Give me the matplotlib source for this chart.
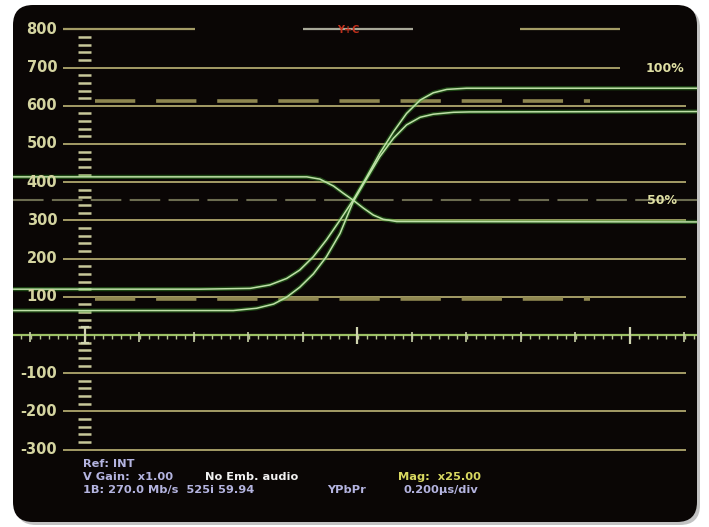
import numpy as np
import matplotlib.pyplot as plt
from matplotlib.patches import FancyBboxPatch

plt.rcParams['lines.scale_dashes'] = False

# graticule (mV)
grid_levels = [700, 600, 500, 400, 300, 200, 100, -100, -200, -300]
scale_labels = ["800", "700", "600", "500", "400", "300", "200", "100", "-100", "-200", "-300"]
scale_values = [800, 700, 600, 500, 400, 300, 200, 100, -100, -200, -300]
marker_levels = [612, 95]
mid_level = 353
top_level = 800

# traces: x in divisions, y in mV
fall_x = [-1.32, 4.07, 4.31, 4.56, 4.74, 4.92, 5.11, 5.29, 5.47, 5.72, 11.23]
fall_y = [414, 414, 408, 390, 371, 353, 332, 314, 303, 297, 296]

up_x = [-1.32, 2.11, 3.03, 3.39, 3.70, 3.94, 4.19, 4.43, 4.68, 4.92, 5.17, 5.41,
        5.66, 5.90, 6.15, 6.39, 6.64, 7.00, 11.23]
up_y = [120, 120, 122, 131, 148, 170, 205, 249, 301, 353, 414, 476,
        532, 580, 615, 634, 643, 646, 646]

lo_x = [-1.32, 2.11, 2.72, 3.15, 3.46, 3.70, 3.94, 4.19, 4.43, 4.68, 4.92, 5.17,
        5.41, 5.66, 5.90, 6.15, 6.39, 6.76, 7.06, 11.23]
lo_y = [64, 64, 64, 70, 81, 99, 125, 160, 205, 266, 349, 410,
        467, 515, 550, 570, 578, 583, 584, 585]

W, H = 709, 527
fig = plt.figure(figsize=(W / 100, H / 100), dpi=100, facecolor='white')
ax = fig.add_axes([0, 0, 1, 1])
ax.set_xlim((0 - 85) / 54.5, (W - 85) / 54.5)
ax.set_ylim((335 - H) / 0.382, 335 / 0.382)
ax.axis('off')

def px(x, y):
    # pixel position -> axes fraction
    return x / W, 1 - y / H

# panel with shadow
shadow = FancyBboxPatch((0.16, 0.02), 6.84, 5.17, boxstyle="round,pad=0,rounding_size=0.2",
                        transform=fig.dpi_scale_trans, fc='#9a9a9a', ec='none', alpha=0.6, zorder=0)
panel = FancyBboxPatch((0.13, 0.05), 6.84, 5.17, boxstyle="round,pad=0,rounding_size=0.2",
                       transform=fig.dpi_scale_trans, fc='#0a0605', ec='none', zorder=0.5)
ax.add_patch(shadow)
ax.add_patch(panel)

gcol = '#a49c66'
x0, x1 = -0.404, 11.03
for lv in grid_levels:
    end = 9.817 if lv == 700 else x1
    ax.hlines(lv, x0, end, color=gcol, lw=1.4, zorder=2)
# top line, broken by the readout
for a, b, c in [(-0.404, 2.018, gcol), (4.0, 6.018, '#a8a898'), (7.98, 9.817, gcol)]:
    ax.hlines(top_level, a, b, color=c, lw=1.6, zorder=2)

# dashed markers
for lv in marker_levels:
    ax.hlines(lv, 0.18, 9.27, color='#8e8650', lw=2.6, linestyles=[(0, (29, 15))], zorder=2.5)
ax.hlines(mid_level, -1.32, 11.23, color='#6c6c50', lw=1.5, linestyles=[(0, (22, 6))], zorder=2.5)

# vertical scale dashes
for lv in np.arange(-280, 800, 20):
    if lv % 100 != 0:
        ax.hlines(lv, -0.13, 0.11, color='#c8c89a', lw=1.8, zorder=3)

# horizontal axis with ticks
axc = '#9cc064'
ax.hlines(0, -1.32, 11.23, color=axc, lw=1.6, zorder=3)
tick_px = 1 / 0.382
for t in np.arange(-1.5, 11.25, 1 / 6):
    if t < -1.3:
        continue
    ax.vlines(t, -4 * tick_px, 0, color='#b8c890', lw=1.0, zorder=3)
for t in range(-1, 12):
    ax.vlines(t, -7 * tick_px, 3 * tick_px, color='#c8d0a8', lw=1.2, zorder=3)
for t in [5, 10]:
    ax.vlines(t, -9 * tick_px, 8 * tick_px, color='#d0d4b0', lw=1.6, zorder=3)
ax.vlines(0, -8 * tick_px, 8 * tick_px, color='#d0d4b0', lw=1.6, zorder=3)
ax.hlines([-8 * tick_px, 8 * tick_px], -0.07, 0.07, color='#d0d4b0', lw=1.6, zorder=3)

# traces: glow + core
for xs, ys in [(fall_x, fall_y), (up_x, up_y), (lo_x, lo_y)]:
    ax.plot(xs, ys, color='#3aa82c', lw=3.0, alpha=0.4, zorder=4, solid_capstyle='butt')
    ax.plot(xs, ys, color='#bfe0a8', lw=1.1, zorder=5, solid_capstyle='butt')

# scale labels
for lab, v in zip(scale_labels, scale_values):
    ax.text(-0.51, v, lab, ha='right', va='center', fontsize=10.5, fontweight='bold',
            color='#d4d4a0', zorder=6)

ax.text(*px(665, 69), "100%", transform=ax.transAxes, ha='center', va='center',
        fontsize=9, fontweight='bold', color='#e0e0a4', zorder=6)
ax.text(*px(662, 201), "50%", transform=ax.transAxes, ha='center', va='center',
        fontsize=9, fontweight='bold', color='#e0e0a4', zorder=6)
ax.text(*px(348, 30), "Y+C", transform=ax.transAxes, ha='center', va='center',
        fontsize=7, fontweight='bold', color='#c0301c', zorder=6)

# readout text
lav = '#b4b4e0'
readouts = [
    (83, 464, "Ref: INT", lav),
    (83, 477, "V Gain:  x1.00", lav),
    (205, 477, "No Emb. audio", '#f0f0f0'),
    (398, 477, "Mag:  x25.00", '#d8d860'),
    (83, 490, "1B: 270.0 Mb/s  525i 59.94", lav),
    (327, 490, "YPbPr", lav),
    (404, 490, "0.200\u00b5s/div", lav),
]
for x, y, s, c in readouts:
    ax.text(*px(x, y), s, transform=ax.transAxes, ha='left', va='center',
            fontsize=8.2, fontweight='bold', color=c, zorder=6)

fig.savefig('out.png', dpi=100, facecolor='white')
